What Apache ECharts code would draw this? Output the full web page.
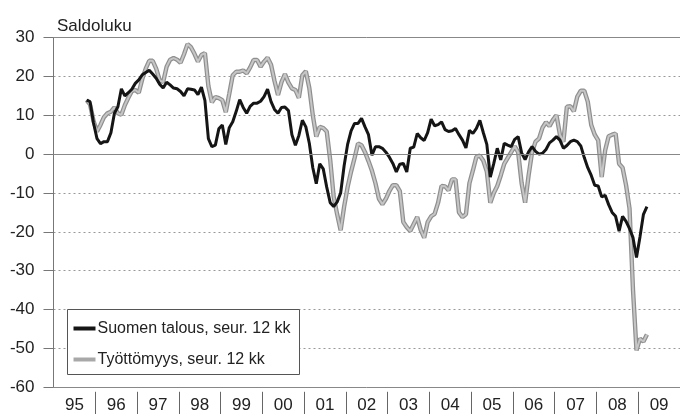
<!DOCTYPE html>
<html><head><meta charset="utf-8">
<script src="https://cdn.jsdelivr.net/npm/echarts@6/dist/echarts.min.js"></script>
<style>html,body{margin:0;padding:0;background:#fff}#c{width:680px;height:414px}</style>
</head><body><div id="c"></div>
<script>
// Year categories on the x axis
const yearLabels = ['95','96','97','98','99','00','01','02','03','04','05','06','07','08','09'];
// Monthly observations, first one = October 1995
const firstYear = 1995, firstMonth = 10;
const seriesNames = ['Suomen talous, seur. 12 kk', 'Työttömyys, seur. 12 kk'];
const talous = [
13.9,13.5,8,4,2.7,3.2,3.2,5.5,10.5,12.2,16.8,15.0,15.8,16.7,18.2,19.1,20.4,21.0,21.6,20.6,
19.5,18.0,17.0,18.5,17.8,17.0,16.8,16.1,15.0,16.8,16.7,16.5,15.3,17.2,13.8,4.0,1.9,2.3,6.5,7.5,
2.5,6.8,8.3,11,14.0,12.0,10.5,12.3,13.1,13.1,13.6,14.8,16.7,13.5,11.5,10.5,12.0,12.1,11.2,5.0,
2.3,4.8,8.7,7.0,2.8,-3.5,-7.6,-2.5,-3.8,-8.5,-12.5,-13.5,-12.3,-10.0,-3.0,2.5,6.0,7.9,7.9,9.2,
7.0,5.0,-0.3,1.9,1.9,1.5,0.5,-0.8,-2.4,-4.6,-2.6,-2.4,-4.6,1.5,1.8,5.3,4.2,3.5,5.5,9.0,
7.3,7.6,8.3,6.3,5.8,6.0,6.6,5.0,3.6,1.6,6.1,5.3,6.6,8.7,5.5,2.5,-5.9,-2.4,1.5,-1.5,
2.8,2.3,1.9,3.8,4.5,0.3,-1.4,0.6,1.9,0.7,0,0.2,1.2,2.9,3.6,4.5,3.6,1.5,2.2,3.2,
3.6,3.2,2.1,-0.9,-3.5,-5.5,-8.0,-8.2,-11.0,-10.6,-13.0,-15.0,-16.0,-19.8,-16.0,-17.3,-19.2,-21.5,-26.6,-21.3,
-15.5,-13.5];
const tyottomyys = [
13.9,12.8,8.5,5.8,7.5,9.5,10.5,10.9,12.0,10.5,10.1,12.6,14.5,16.2,16.5,15.8,19.3,22.0,24.0,24.0,
22.0,19.0,18.5,22.5,24.3,24.7,24.3,23.5,25.7,28.3,27.5,25.8,23.8,25.5,26.0,17.5,13.3,14.7,14.4,13.9,
10.8,15.5,20.3,21.2,21.2,21.5,20.8,22.3,24.2,24.2,22.5,23.8,24.8,23.0,18.8,15.2,18.5,20.6,18.4,16.9,
16.5,14.5,20.3,21.3,17.0,10.0,4.5,7.0,6.7,5.8,-1.5,-11.0,-15.5,-19.6,-13.5,-8.5,-4.5,-1.0,2.7,2.3,
0.5,-1.8,-4.3,-7.5,-11.5,-12.9,-11.5,-9.5,-8.0,-8.0,-9.5,-17.5,-18.8,-19.8,-18.0,-16.2,-19.5,-21.5,-17.5,-16.0,
-15.4,-12.5,-8.2,-8.3,-9.3,-6.5,-6.5,-15.0,-16.2,-15.5,-7.5,-4.2,-0.7,-0.4,-1.7,-4.5,-12.5,-10.0,-8.2,-5.5,
-2.5,-1.0,0.5,2.0,0.5,-7.5,-12.5,-5.5,0.5,3.2,4.0,6.8,8.2,7.2,8.8,10.0,5.0,3.2,12.2,12.3,
11.0,14.8,16.3,16.3,13.5,7.5,5.0,3.5,-5.9,1.0,4.6,5.0,5.3,-2.5,-3.5,-8.0,-14.0,-35.0,-50.5,-47.5,
-48.2,-46.4];
const yMin = -60, yMax = 30, yStep = 10;

// month position (months since Jan of first category year, centred in the month)
const startIdx = (firstYear - 1995) * 12 + (firstMonth - 1);
const pts = arr => arr.map((v, k) => [startIdx + k + 0.5, v]);

const FONT = 'Liberation Sans, Arial, sans-serif';
const chart = echarts.init(document.getElementById('c'), null, {renderer: 'canvas'});
chart.setOption({
  animation: false,
  backgroundColor: '#fff',
  title: {text: 'Saldoluku', left: 52, top: 13, textStyle: {fontFamily: FONT, fontSize: 17, fontWeight: 'normal', color: '#222'}},
  grid: {left: 53.5, top: 37.5, width: 637.3, height: 349.8, containLabel: false},
  xAxis: [
    {type: 'value', min: 0, max: yearLabels.length * 12, show: false},
    {type: 'category', data: yearLabels, boundaryGap: true, position: 'bottom', offset: 4.5,
     axisLine: {show: false},
     axisTick: {show: true, length: 24, lineStyle: {color: '#666', width: 1}, interval: (i) => i > 0},
     axisLabel: {margin: 5, fontFamily: FONT, fontSize: 17, color: '#222', interval: 0},
     splitLine: {show: false}}
  ],
  yAxis: {type: 'value', min: yMin, max: yMax, interval: yStep,
    axisLine: {show: true, lineStyle: {color: '#777', width: 1}},
    axisTick: {show: true, length: 10, lineStyle: {color: '#777'}},
    axisLabel: {margin: 19, fontFamily: FONT, fontSize: 17, color: '#222'},
    splitLine: {show: true, lineStyle: {color: '#999', type: [2, 3], width: 1}}
  },
  legend: {
    data: seriesNames, orient: 'vertical', left: 67.5, top: 309.5,
    backgroundColor: '#fff', borderColor: '#555', borderWidth: 1,
    padding: [9, 9, 5, 6], itemGap: 11, itemWidth: 22, itemHeight: 4, icon: 'rect',
    textStyle: {fontFamily: FONT, fontSize: 16, color: '#222', lineHeight: 20, padding: [0, 0, 0, -3]}
  },
  series: [
    {name: seriesNames[1], type: 'line', data: pts(tyottomyys), xAxisIndex: 0, showSymbol: false, symbol: 'none',
     lineStyle: {color: '#8f8f8f', width: 4.4}, itemStyle: {color: '#a8a8a8'}, z: 2,
     markLine: {silent: true, symbol: 'none', label: {show: false},
       lineStyle: {color: '#888', type: 'solid', width: 1},
       data: [{yAxis: 0}, {yAxis: yMax}, {yAxis: yMin}]}},
    {name: '_tyo_inner', type: 'line', data: pts(tyottomyys), xAxisIndex: 0, showSymbol: false, symbol: 'none',
     lineStyle: {color: '#c6c6c6', width: 2}, z: 3},
    {name: seriesNames[0], type: 'line', data: pts(talous), xAxisIndex: 0, showSymbol: false, symbol: 'none',
     lineStyle: {color: '#151515', width: 3}, itemStyle: {color: '#151515'}, z: 4}
  ]
});
</script></body></html>
